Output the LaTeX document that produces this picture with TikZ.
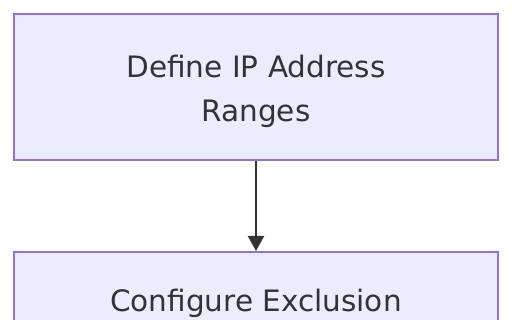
\documentclass[tikz,border=0pt]{standalone}
\usepackage{fontspec}
\setmainfont{DejaVu Sans}
\usetikzlibrary{arrows.meta,positioning}
\definecolor{BoxFill}{HTML}{ECECFF}
\definecolor{BoxLine}{HTML}{9370DB}
\definecolor{TextDark}{HTML}{333333}
\tikzset{
  FB/.style={rectangle,draw=BoxLine,fill=BoxFill,line width=2pt,
             minimum width=484pt,minimum height=146pt,
             text centered,align=center,text=TextDark,
             font=\fontsize{29.5}{44}\selectfont},
  arr/.style={-{Triangle[length=15pt,width=16pt]},line width=2pt,draw=TextDark}
}

\begin{document}
\begin{tikzpicture}[x=1pt,y=1pt]
  \useasboundingbox (0,0) rectangle (512,-320);
  \node[FB] (ranges) at (256,-87) {\rule{0pt}{31pt}Define IP Address\\Ranges};
  \node[FB,below=90pt of ranges] (excl) {\rule{0pt}{31pt}Configure Exclusion\\\strut};
  \draw[arr] (ranges) -- (excl);
\end{tikzpicture}
\end{document}
